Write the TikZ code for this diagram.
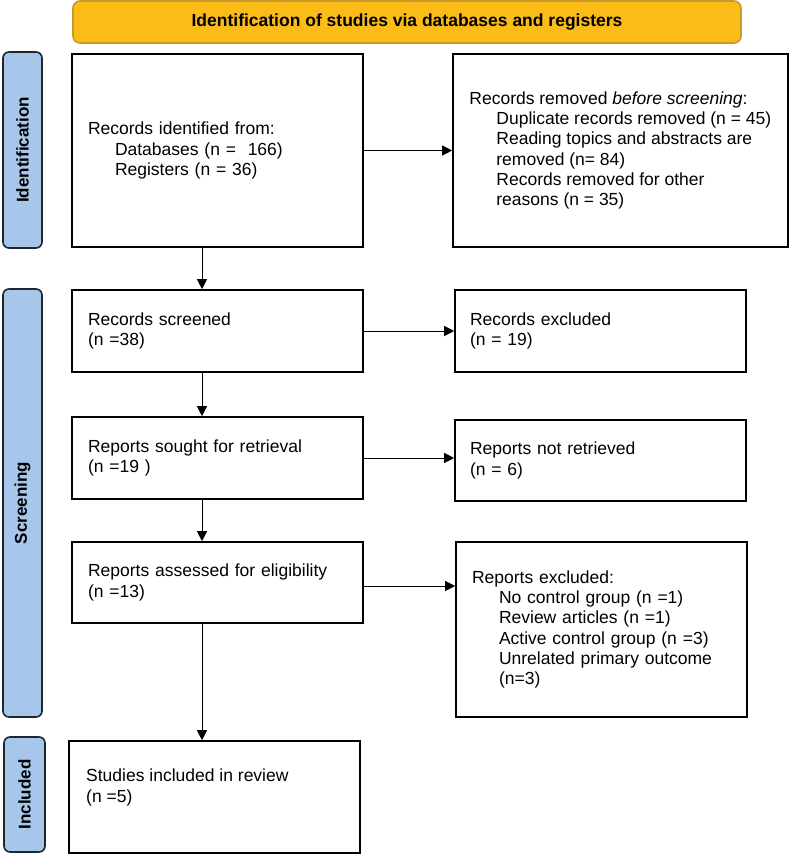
\documentclass[tikz,border=0pt]{standalone}
\usepackage{fontspec}
\setmainfont{Liberation Sans}
\usetikzlibrary{arrows.meta}
\definecolor{bannerfill}{HTML}{FBBC18}
\definecolor{bannerdraw}{HTML}{C9982E}
\definecolor{sidefill}{HTML}{A6C6EA}
\definecolor{sidedraw}{HTML}{1E2630}
\newcommand{\ind}{\hspace*{27pt}}
\begin{document}
\begin{tikzpicture}[x=1pt,y=-1pt,
  box/.style={draw=black, line width=1.6pt, fill=white, inner sep=0pt, align=left,
    font=\fontsize{17.5}{20.3}\selectfont},
  txt/.style={inner sep=0pt, align=left, font=\fontsize{17.5}{20.3}\selectfont},
  side/.style={draw=sidedraw, fill=sidefill, line width=1.6pt, rounded corners=6pt,
    inner sep=0pt, rotate=90, font=\fontsize{17}{20}\selectfont\bfseries},
  banner/.style={draw=bannerdraw, fill=bannerfill, line width=1.6pt, rounded corners=7pt,
    inner sep=0pt, font=\fontsize{17.5}{20}\selectfont\bfseries},
  arr/.style={-{Triangle[length=10pt,width=10pt]}, line width=1pt, draw=black}]
\useasboundingbox (0,0) rectangle (790,858);

\node[banner, minimum width=668, minimum height=42] (ban) at (407,22)
  {Identification of studies via databases and registers};

\node[side, minimum width=196, minimum height=39] (sid) at (22.5,150) {Identification};
\node[side, minimum width=428, minimum height=39] (ssc) at (22.5,503) {Screening};
\node[side, minimum width=115, minimum height=41] (sin) at (24.5,794.5) {Included};

\node[box, minimum width=291, minimum height=193, text width=259] (b1) at (217.5,150.5)
  {Records identified from:\\ \ind Databases (n =\ \ 166)\\ \ind Registers (n = 36)};
\node[box, minimum width=335, minimum height=193] (b2) at (620.5,150.5) {};
\node[txt, anchor=west] (t2) at ([xshift=17pt]b2.west)
  {Records removed \textit{before screening}:\\
   \ind Duplicate records removed (n = 45)\\
   \ind Reading topics and abstracts are\\
   \ind removed (n= 84)\\
   \ind Records removed for other\\
   \ind reasons (n = 35)};

\node[box, minimum width=291, minimum height=82, text width=259] (b3) at (217.5,331)
  {Records screened\\(n =38)};
\node[box, minimum width=291, minimum height=82, text width=261] (b4) at (600.5,331)
  {Records excluded\\(n = 19)};

\node[box, minimum width=291, minimum height=82, text width=259] (b5) at (217.5,458)
  {Reports sought for retrieval\\(n =19 )};
\node[box, minimum width=291, minimum height=81, text width=261] (b6) at (600.5,460.5)
  {Reports not retrieved\\(n = 6)};

\node[box, minimum width=291, minimum height=81, text width=259] (b7) at (217.5,582.5)
  {Reports assessed for eligibility\\(n =13)};
\node[box, minimum width=291, minimum height=175, text width=259] (b8) at (601.5,629.5)
  {Reports excluded:\\
   \ind No control group (n =1)\\
   \ind Review articles (n =1)\\
   \ind Active control group (n =3)\\
   \ind Unrelated primary outcome\\
   \ind (n=3)};

\node[box, minimum width=291, minimum height=112] (b9) at (214.5,797) {};
\node[txt, anchor=west] (t9) at (86,787.5) {Studies included in review\\(n =5)};

\coordinate (vx) at (202,0);
\draw[arr] (b1.east) -- (b2.west);
\draw[arr] (b3.east) -- (b4.west);
\draw[arr] (b5.east) -- (b5.east -| b6.west);
\draw[arr] ([yshift=-3.5pt]b7.east) -- ([yshift=-3.5pt]b7.east -| b8.west);
\draw[arr] (b1.south -| vx) -- (b3.north -| vx);
\draw[arr] (b3.south -| vx) -- (b5.north -| vx);
\draw[arr] (b5.south -| vx) -- (b7.north -| vx);
\draw[arr] (b7.south -| vx) -- (b9.north -| vx);
\end{tikzpicture}
\end{document}
